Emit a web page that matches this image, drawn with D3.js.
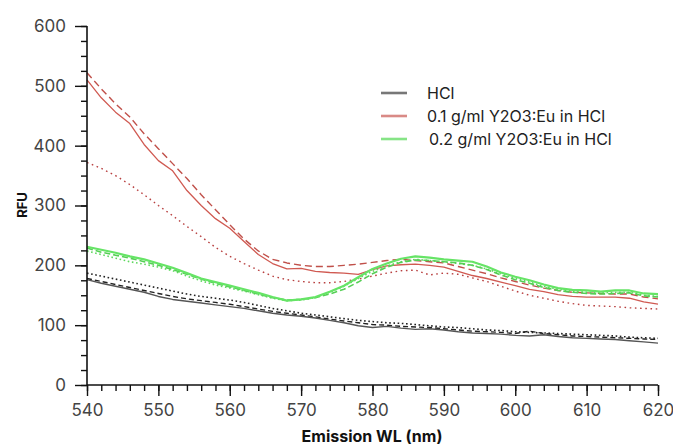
<!DOCTYPE html>
<html>
<head>
<meta charset="utf-8">
<script src="https://cdn.jsdelivr.net/npm/d3@7"></script>
<style>
html,body{margin:0;padding:0;background:#fff;}
svg{display:block;}
text{font-family:Inter,"Liberation Sans",Arial,sans-serif;}
</style>
</head>
<body>
<svg id="chart" width="673" height="445"></svg>
<script>
// ---- data ----
const wavelengths = d3.range(540, 621, 2);
const xTicks = [540, 550, 560, 570, 580, 590, 600, 610, 620];
const yTicks = [0, 100, 200, 300, 400, 500, 600];

const hclSolid  = [176,170,165,160,155,148,143,140,137,134,131,128,124,120,117,115,112,108,104,99,96,98,95,93,94,92,89,87,86,85,83,82,84,81,79,78,77,76,74,72,70];
const hclDashed = [178,173,168,163,158,153,148,144,141,138,135,131,127,123,120,117,114,110,107,104,101,100,98,97,96,94,92,90,89,88,86,90,86,84,82,81,80,79,78,77,76];
const hclDotted = [187,182,177,172,167,162,157,152,148,145,142,138,133,128,124,120,117,114,111,108,106,104,103,101,99,97,96,94,92,91,89,88,87,86,85,84,83,82,80,79,78];

const y01Solid  = [510,480,456,437,402,375,358,325,300,278,262,240,218,203,194,195,190,188,187,185,193,199,201,202,200,197,190,183,178,172,166,160,156,151,148,147,147,147,145,139,135];
const y01Dashed = [522,495,470,448,420,395,370,345,318,293,268,244,224,210,204,200,198,198,200,202,205,208,210,208,206,204,198,192,186,179,173,167,162,158,155,154,153,152,152,147,144];
const y01Dotted = [372,362,350,335,318,300,283,265,248,230,215,203,192,182,176,173,171,171,173,177,182,187,191,192,184,187,185,179,173,165,157,150,145,140,136,133,132,131,129,128,127];

const y02Solid  = [231,226,221,215,210,203,196,187,178,172,166,160,154,147,141,143,147,156,166,180,194,203,211,215,213,210,208,206,198,188,181,175,168,162,159,158,156,158,158,153,152];
const y02Dashed = [229,222,217,212,206,200,193,185,177,170,164,158,152,146,142,143,146,152,160,172,186,197,205,209,208,206,204,200,193,184,176,170,163,158,155,153,152,153,154,149,147];
const y02Dotted = [224,218,212,206,202,197,191,182,174,167,162,157,151,145,141,142,146,155,165,178,190,199,206,210,208,206,203,200,194,186,178,172,165,160,157,155,154,155,155,150,148];

const legendLabels = ["HCl", "0.1 g/ml Y2O3:Eu in HCl", "0.2 g/ml Y2O3:Eu in HCl"];

// ---- styles ----
const series = [
  {v: hclDotted, c: "#222222", w: 1.6, d: "1.6,2.6"},
  {v: hclDashed, c: "#222222", w: 1.4, d: "5,3"},
  {v: hclSolid,  c: "#555555", w: 1.4, d: null},
  {v: y01Dotted, c: "#b84040", w: 1.4, d: "1.6,3.6"},
  {v: y01Dashed, c: "#c0504a", w: 1.4, d: "7,4"},
  {v: y01Solid,  c: "#d05a52", w: 1.3, d: null},
  {v: y02Dotted, c: "#5fd85f", w: 1.6, d: "1.6,2.6"},
  {v: y02Dashed, c: "#55cf55", w: 1.6, d: "6,3"},
  {v: y02Solid,  c: "#66e466", w: 2.2, d: null}
];
const legendColors = ["#777777", "#d98a86", "#86e486"];

const svg = d3.select("#chart");
const x = d3.scaleLinear().domain([540, 620]).range([87, 658]);
const y = d3.scaleLinear().domain([0, 600]).range([385, 26]);

// lines
const line = d3.line().x((d, i) => x(wavelengths[i])).y(d => y(d)).curve(d3.curveLinear);
const g = svg.append("g");
series.forEach(s => {
  g.append("path").datum(s.v)
    .attr("d", line)
    .attr("fill", "none")
    .attr("stroke", s.c)
    .attr("stroke-width", s.w)
    .attr("stroke-linejoin", "round")
    .attr("stroke-dasharray", s.d);
});

// axes
const yMinor = svg.append("g").attr("transform", "translate(87,0)")
  .call(d3.axisLeft(y).tickValues(d3.range(0, 601, 25)).tickSize(6).tickFormat(""));
const yMajor = svg.append("g").attr("transform", "translate(87,0)")
  .call(d3.axisLeft(y).tickValues(yTicks).tickSize(12).tickPadding(9).tickFormat(d3.format("d")));
const xMinor = svg.append("g").attr("transform", "translate(0,385)")
  .call(d3.axisBottom(x).tickValues(d3.range(540, 621, 2)).tickSize(6).tickFormat(""));
const xMajor = svg.append("g").attr("transform", "translate(0,385)")
  .call(d3.axisBottom(x).tickValues(xTicks).tickSize(11).tickPadding(8).tickFormat(d3.format("d")));

[yMinor, yMajor, xMinor, xMajor].forEach(a => {
  a.select(".domain").attr("stroke", "#111").attr("stroke-width", 1.6);
  a.selectAll(".tick line").attr("stroke", "#111").attr("stroke-width", 1.4);
  a.selectAll("text").attr("fill", "#444").attr("font-size", 17);
});
yMinor.select(".domain").remove();
xMinor.select(".domain").remove();
yMajor.select(".domain").attr("d", "M0,385V26");
xMajor.select(".domain").attr("d", "M87,0H658");

// axis titles
svg.append("text").attr("x", 372).attr("y", 442)
  .attr("text-anchor", "middle").attr("font-weight", "bold").attr("font-size", 16).attr("fill", "#111")
  .text("Emission WL (nm)");
svg.append("text").attr("transform", "translate(27,205) rotate(-90)")
  .attr("text-anchor", "middle").attr("font-weight", "bold").attr("font-size", 13).attr("fill", "#111")
  .text("RFU");

// legend
const lg = svg.append("g");
const ly = [93, 116, 139];
legendLabels.forEach((t, i) => {
  lg.append("line").attr("x1", 381).attr("x2", 407).attr("y1", ly[i]).attr("y2", ly[i])
    .attr("stroke", legendColors[i]).attr("stroke-width", 2.6);
  lg.append("text").attr("x", 427 + (i === 2 ? 2 : 0)).attr("y", ly[i]).attr("dy", "0.35em")
    .attr("font-size", 16).attr("fill", "#222").text(t);
});
</script>
</body>
</html>
